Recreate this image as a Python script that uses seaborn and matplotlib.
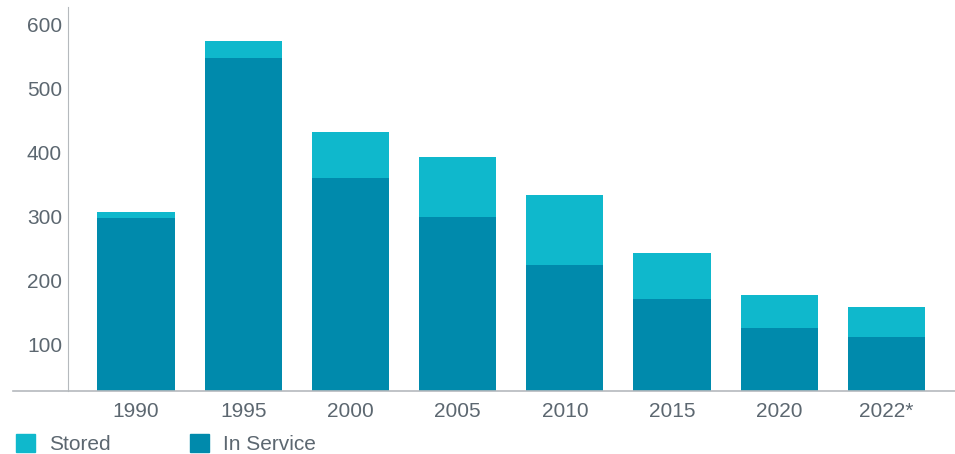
import pandas as pd
import seaborn as sns
import matplotlib.pyplot as plt
import matplotlib.transforms as mtransforms
from matplotlib.patches import Patch

# Values
years = ["1990", "1995", "2000", "2005", "2010", "2015", "2020", "2022*"]
in_service = [270, 520, 333, 272, 197, 144, 98, 84]
stored = [10, 27, 72, 94, 109, 72, 52, 47]
y_ticks = [100, 200, 300, 400, 500, 600]

stored_color = "#0fb8cc"
service_color = "#008aac"
text_color = "#5c6770"
line_color = "#b5b9bd"
fs = 15

df = pd.DataFrame({"year": years, "in_service": in_service, "stored": stored})
df["total"] = df["in_service"] + df["stored"]

sns.set_style("white")
plt.rcParams["font.family"] = ["Liberation Sans", "DejaVu Sans"]

fig = plt.figure(figsize=(9.55, 4.54), dpi=100)
ax = fig.add_axes([68 / 955, 63 / 454, 1 - 68 / 955, 384 / 454])

# stacked: totals first (stored on top), then in-service over them
sns.barplot(data=df, x="year", y="total", color=stored_color, width=0.72,
            saturation=1, linewidth=0, ax=ax)
sns.barplot(data=df, x="year", y="in_service", color=service_color, width=0.72,
            saturation=1, linewidth=0, ax=ax)

ax.set_xlim(-0.635, 7.64)
ax.set_ylim(0, 600)
ax.set_xlabel("")
ax.set_ylabel("")

# y axis: long outward ticks, labels sit under each tick line
ax.set_yticks([0] + y_ticks)
ax.set_yticklabels([])
ax.tick_params(axis="y", length=38, width=1, color=line_color, direction="out")
ax.tick_params(axis="x", length=0, labelsize=fs, labelcolor=text_color, pad=8)

off = mtransforms.ScaledTranslation(-0.06, -0.19, fig.dpi_scale_trans)
trans = mtransforms.blended_transform_factory(ax.transAxes, ax.transData) + off
for t in y_ticks:
    ax.text(0, t, str(t), transform=trans, ha="right", va="center",
            fontsize=fs, color=text_color)

for side in ["top", "right"]:
    ax.spines[side].set_visible(False)
ax.spines["left"].set_color(line_color)
ax.spines["bottom"].set_color(line_color)
ax.spines["bottom"].set_linewidth(1.2)
ax.spines["bottom"].set_bounds(-1.15, 7.64)
ax.spines["bottom"].set_clip_on(False)

handles = [Patch(color=stored_color, label="Stored"),
           Patch(color=service_color, label="In Service")]
fig.legend(handles=handles, loc="lower left", bbox_to_anchor=(16 / 955, 0.0),
           ncol=2, frameon=False, fontsize=fs, labelcolor=text_color,
           handlelength=0.92, handleheight=0.92, handletextpad=0.67,
           columnspacing=3.8, borderpad=0, borderaxespad=0)

fig.savefig("out.png", dpi=100)
